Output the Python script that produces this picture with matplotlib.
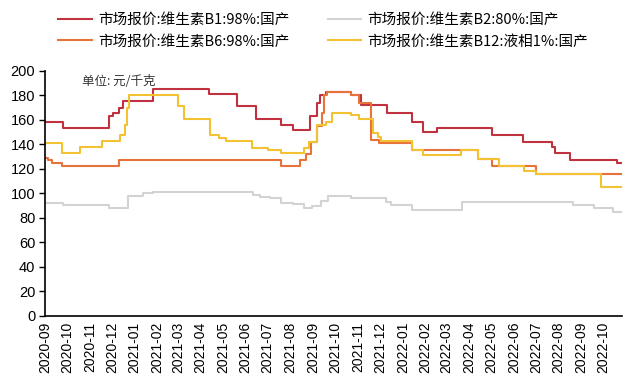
import matplotlib
matplotlib.use('Agg')
import matplotlib.pyplot as plt
import pandas as pd

# step data: date of each price change and the new price (元/千克)
b1_dates = ['2020-09-01', '2020-09-25', '2020-11-27', '2020-12-02', '2020-12-11', '2020-12-16',
            '2021-01-26', '2021-04-12', '2021-05-20', '2021-06-15', '2021-07-19', '2021-08-04',
            '2021-08-28', '2021-09-06', '2021-09-10', '2021-09-19', '2021-10-23', '2021-11-05',
            '2021-12-11', '2022-01-14', '2022-01-28', '2022-02-17', '2022-05-02', '2022-06-14',
            '2022-07-23', '2022-07-27', '2022-08-17', '2022-10-19']
b1_vals = [158, 153, 163, 166, 170, 175,
           185, 181, 171, 160.5, 156, 152,
           163, 173.5, 180, 183, 180, 172,
           165.5, 158, 150.5, 153, 148, 142,
           138, 133, 127, 125]

b2_dates = ['2020-09-01', '2020-09-25', '2020-11-27', '2020-12-23', '2021-01-13', '2021-01-26',
            '2021-03-10', '2021-06-11', '2021-06-20', '2021-07-04', '2021-07-19', '2021-08-04',
            '2021-08-20', '2021-08-31', '2021-09-12', '2021-09-21', '2021-10-23', '2021-12-09',
            '2021-12-16', '2022-01-14', '2022-03-22', '2022-08-20', '2022-09-18', '2022-10-14']
b2_vals = [92, 90.5, 88, 98, 100, 101,
           101.5, 99, 97, 96, 92.5, 91.5,
           88, 89.5, 94, 98, 96.5, 93,
           90.5, 86.5, 92.8, 90.5, 88, 85]

b6_dates = ['2020-09-01', '2020-09-05', '2020-09-10', '2020-09-24', '2020-12-11', '2021-07-19',
            '2021-08-14', '2021-08-22', '2021-08-29', '2021-09-06', '2021-09-13', '2021-09-16',
            '2021-09-20', '2021-10-23', '2021-11-03', '2021-11-19', '2021-11-30', '2022-01-14',
            '2022-04-14', '2022-05-02', '2022-07-01']
b6_vals = [129, 127, 125, 122.5, 127.5, 122.5,
           127, 132, 142, 155, 166, 180,
           183, 180, 174, 143.5, 141, 135.5,
           128, 122.5, 115.7]

b12_dates = ['2020-09-01', '2020-09-24', '2020-10-19', '2020-11-17', '2020-12-12', '2020-12-19',
             '2020-12-22', '2020-12-25', '2021-03-01', '2021-03-09', '2021-04-14', '2021-04-26',
             '2021-05-06', '2021-06-10', '2021-07-01', '2021-07-19', '2021-08-19', '2021-08-26',
             '2021-09-06', '2021-09-18', '2021-09-26', '2021-10-23', '2021-11-02', '2021-11-21',
             '2021-11-28', '2021-12-02', '2022-01-14', '2022-01-28', '2022-03-21', '2022-04-14',
             '2022-05-12', '2022-06-15', '2022-07-01', '2022-09-28']
b12_vals = [141, 133, 137.5, 143, 148, 156,
            169.5, 180, 171, 160.5, 148, 145.5,
            142.5, 137, 135.5, 133.3, 137, 142,
            156, 158.5, 166, 164, 160.5, 149,
            146, 143, 135.5, 131.5, 135.5, 128,
            122.5, 118, 115.7, 105.6]

end_date = '2022-10-25'
labels = ['市场报价:维生素B1:98%:国产', '市场报价:维生素B2:80%:国产',
          '市场报价:维生素B6:98%:国产', '市场报价:维生素B12:液相1%:国产']
colors = ['#C0323F', '#D3D3D3', '#E8733A', '#F3C232']
month_ticks = pd.date_range('2020-09-01', '2022-10-01', freq='MS')

fig = plt.figure(figsize=(6.29, 3.83), dpi=100)
ax = fig.add_axes([0.0715, 0.175, 0.917, 0.64])

lines = []
series = [(b1_dates, b1_vals), (b2_dates, b2_vals), (b6_dates, b6_vals), (b12_dates, b12_vals)]
for (d, v), lab, c in zip(series, labels, colors):
    x = pd.to_datetime(d + [end_date])
    y = v + [v[-1]]
    ln, = ax.step(x, y, where='post', color=c, lw=1.5, label=lab)
    lines.append(ln)

ax.set_xlim(pd.Timestamp('2020-09-01'), pd.Timestamp('2022-10-26'))
ax.set_ylim(0, 200)
ax.set_yticks(range(0, 201, 20))
ax.set_xticks(month_ticks)
ax.set_xticklabels([t.strftime('%Y-%m') for t in month_ticks], rotation=90,
                   family='Liberation Sans', fontsize=10)
for t in ax.get_yticklabels():
    t.set_family('Liberation Sans')
    t.set_fontsize(10.5)
ax.tick_params(axis='x', length=0, pad=4)
ax.tick_params(axis='y', length=4, width=1, direction='out', pad=3)
for s in ['top', 'right']:
    ax.spines[s].set_visible(False)
for s in ['left', 'bottom']:
    ax.spines[s].set_color('black')
    ax.spines[s].set_linewidth(1.2)

ax.text(0.065, 0.955, '单位: 元/千克', transform=ax.transAxes, fontsize=9,
        family=['Noto Sans CJK SC', 'DejaVu Sans'], va='center', ha='left', color='#333333')

# legend: B1/B6 in the left column, B2/B12 in the right column
order = [0, 2, 1, 3]
fig.legend([lines[i] for i in order], [labels[i] for i in order], ncol=2,
           loc='upper center', bbox_to_anchor=(0.514, 1.0), frameon=False,
           prop={'family': ['Noto Sans CJK SC', 'DejaVu Sans'], 'size': 10.5},
           handlelength=2.3, columnspacing=2.6, labelspacing=0.5, handletextpad=0.45)

fig.savefig('out.png', dpi=100)
